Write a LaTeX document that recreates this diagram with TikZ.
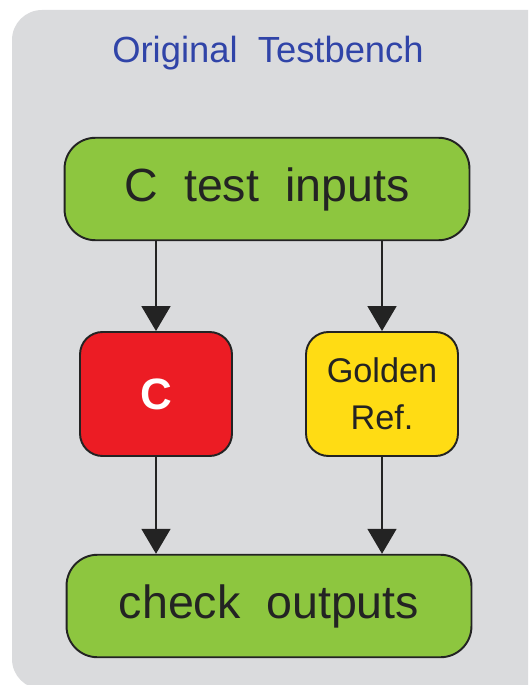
\documentclass[tikz,border=0pt]{standalone}
\usepackage{fontspec}
\setmainfont{Liberation Sans}
\usetikzlibrary{positioning, arrows.meta}
\definecolor{benchGray}{RGB}{218, 219, 221}
\definecolor{titleBlue}{RGB}{48, 68, 168}
\definecolor{boxGreen}{RGB}{141, 198, 63}
\definecolor{boxRed}{RGB}{236, 28, 36}
\definecolor{boxYellow}{RGB}{255, 220, 20}
\definecolor{edgeDark}{RGB}{35, 35, 35}
\tikzset{
    tb_block/.style={
        draw=edgeDark,
        line width=1.1pt,
        rounded corners=0.62cm,
        fill=boxGreen,
        text=edgeDark,
        minimum width=8.1cm,
        minimum height=2.05cm,
        font=\fontsize{26.5}{30}\selectfont
    },
    tb_unit/.style={
        draw=edgeDark,
        line width=1.1pt,
        rounded corners=0.45cm,
        minimum width=3.04cm,
        minimum height=2.48cm,
        align=center
    },
    tb_flow/.style={
        -{Triangle[width=0.58cm, length=0.5cm]},
        line width=1pt,
        draw=edgeDark
    }
}
\begin{document}
\begin{tikzpicture}[x=0.02cm, y=-0.02cm]
        \useasboundingbox (0,0) rectangle (528,685);
        \clip (0,0) rectangle (528,685);
        \fill[benchGray, rounded corners=0.6cm] (12,10) rectangle (560,689);

        \node[text=titleBlue, font=\fontsize{20.7}{24}\selectfont] (title) at (268,53) {Original\ \ Testbench};

        \node[tb_block] (inputs) at (267,189) {C\ \ test\ \ inputs};
        \node[tb_unit, fill=boxRed, text=white, font=\bfseries\fontsize{25}{30}\selectfont] (dut) at (156,394) {C};
        \node[tb_unit, fill=boxYellow, text=edgeDark, font=\fontsize{19.5}{27}\selectfont] (golden) at (382,394) {Golden\\Ref.};
        \node[tb_block] (check) at (269,606) {check\ \ outputs};

        \draw[tb_flow] (dut.north |- inputs.south) -- (dut.north);
        \draw[tb_flow] (golden.north |- inputs.south) -- (golden.north);
        \draw[tb_flow] (dut.south) -- (dut.south |- check.north);
        \draw[tb_flow] (golden.south) -- (golden.south |- check.north);
    \end{tikzpicture}
\end{document}
